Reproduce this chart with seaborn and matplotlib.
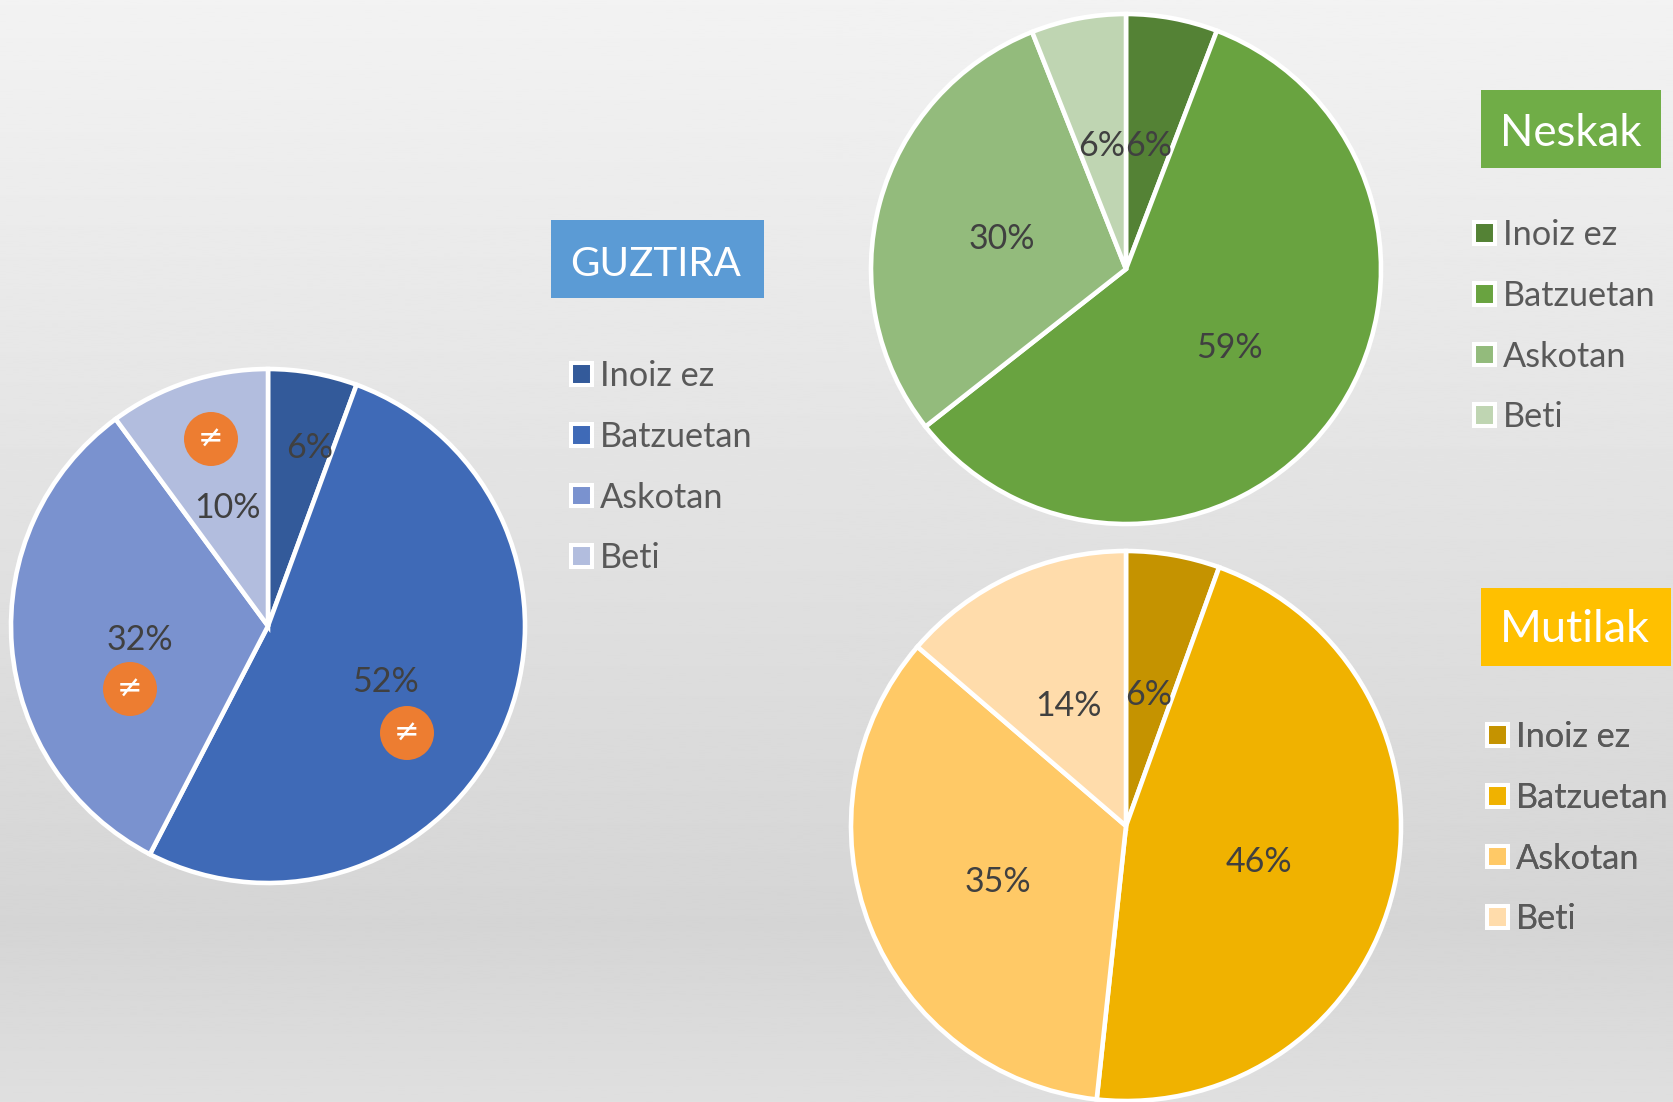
import numpy as np
import seaborn as sns
import matplotlib.pyplot as plt
from matplotlib.patches import Patch, Circle, Rectangle

W, H = 1673, 1102

categories = ['Inoiz ez', 'Batzuetan', 'Askotan', 'Beti']
guztira = [5.6, 52.0, 32.3, 10.1]
neskak = [5.8, 58.6, 29.6, 6.0]
mutilak = [5.5, 46.2, 34.6, 13.7]

blues = ['#335a9a', '#3f6ab7', '#7a92cf', '#b2bdde']
greens = ['#548235', '#69a340', '#93bb7c', '#bfd5b2']
oranges = ['#c59300', '#f0b200', '#ffc966', '#ffdcab']

sns.set_theme(style='white')
plt.rcParams['font.family'] = ['Lato', 'DejaVu Sans']

fig = plt.figure(figsize=(W / 100, H / 100), dpi=100)

# background and everything placed in pixels
bg = fig.add_axes([0, 0, 1, 1], zorder=0)
grad = np.interp(np.linspace(0, 1, 512), [0, 0.84, 1], [0.95, 0.835, 0.875]).reshape(-1, 1)
bg.imshow(grad, cmap='gray', vmin=0, vmax=1, aspect='auto', extent=[0, W, H, 0])
bg.set_xlim(0, W)
bg.set_ylim(H, 0)
bg.axis('off')

top = fig.add_axes([0, 0, 1, 1], zorder=5)
top.set_xlim(0, W)
top.set_ylim(H, 0)
top.axis('off')


def draw_pie(values, colors, cx, cy, r, label_xy):
    ax = fig.add_axes([(cx - r) / W, 1 - (cy + r) / H, 2 * r / W, 2 * r / H], zorder=2)
    wedges, texts, pcts = ax.pie(values, colors=sns.color_palette(colors), startangle=90,
                                 counterclock=False, autopct='%.0f%%',
                                 wedgeprops=dict(edgecolor='white', linewidth=3.3, clip_on=False),
                                 textprops=dict(color='#404040', fontsize=24.5))
    ax.set_xlim(-1, 1)
    ax.set_ylim(-1, 1)
    for t, (px, py) in zip(pcts, label_xy):
        t.set_position(((px - cx) / r, (cy - py) / r))
        t.set_zorder(10)


def draw_legend(colors, x, y):
    handles = [Patch(facecolor=c, edgecolor='white', linewidth=2.9, joinstyle='round', label=n)
               for c, n in zip(colors, categories)]
    leg = top.legend(handles=handles, loc='upper left', bbox_to_anchor=(x, y),
                     bbox_transform=top.transData, frameon=False, fontsize=24.7,
                     labelcolor='#595959', handlelength=0.6, handleheight=0.6,
                     handletextpad=0.25, labelspacing=0.84, borderpad=0, borderaxespad=0)
    top.add_artist(leg)


def title_box(text, color, x0, x1, y0, y1, size, dy):
    top.add_patch(Rectangle((x0, y0), x1 - x0, y1 - y0, facecolor=color, edgecolor='none'))
    top.text(x0 + 19, (y0 + y1) / 2 + dy, text, color='white', fontsize=size, va='center', ha='left')


draw_pie(guztira, blues, 268, 626, 257, [(310, 448), (385, 682), (140, 640), (227, 508)])
draw_pie(neskak, greens, 1126, 269, 255, [(1149, 146), (1229, 348), (1002, 239), (1102, 146)])
draw_pie(mutilak, oranges, 1126, 826, 275, [(1149, 695), (1259, 862), (998, 882), (1068, 706)])

title_box('GUZTIRA', '#5b9bd5', 551, 764, 220, 298, 29, 5)
title_box('Neskak', '#70ad47', 1481, 1661, 90, 168, 31.5, 4)
title_box('Mutilak', '#ffc000', 1481, 1671, 588, 666, 32.5, 3)

draw_legend(blues, 571, 360)
draw_legend(greens, 1474, 219)
draw_legend(oranges, 1487, 721)

# orange "different" markers
for mx, my in [(211, 439), (130, 689), (407, 733)]:
    top.add_patch(Circle((mx, my), 27, facecolor='#ed7d31', edgecolor='none'))
    top.text(mx, my, '≠', color='white', fontsize=22, ha='center', va='center',
             family=['DejaVu Sans'])

fig.savefig('out.png', dpi=100)
